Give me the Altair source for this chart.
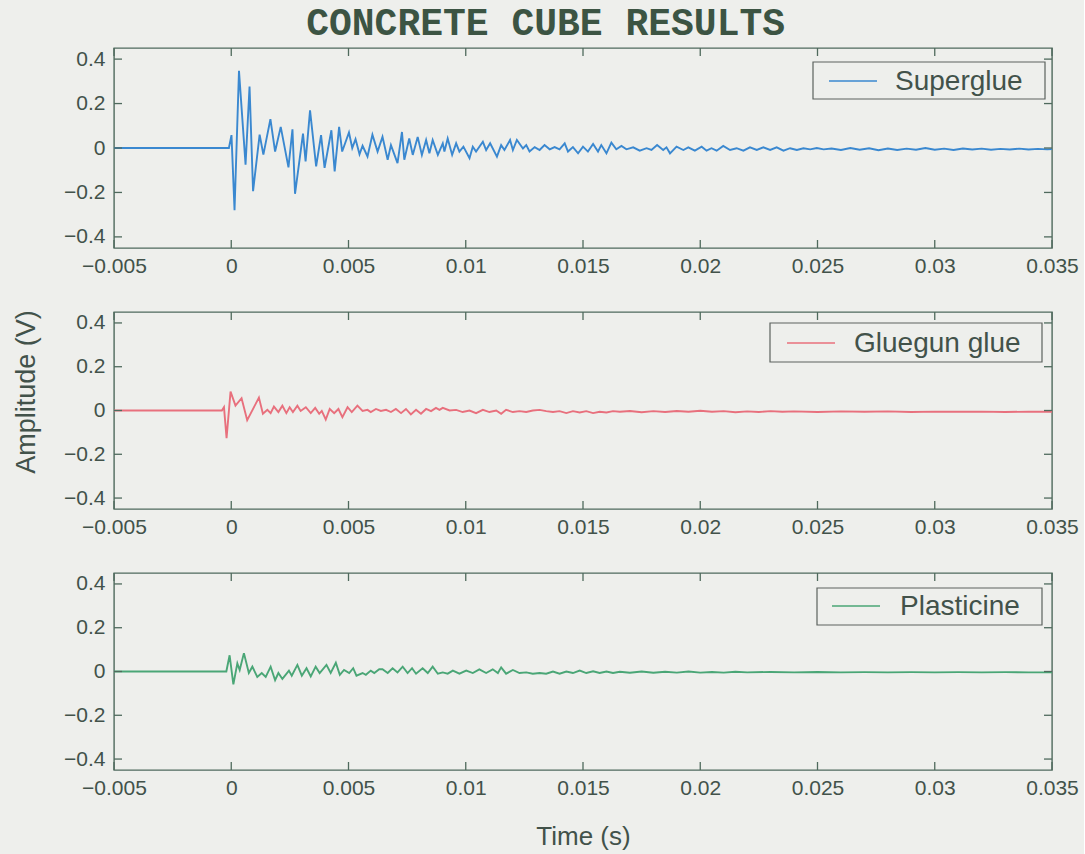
import altair as alt
import pandas as pd

TITLE = "CONCRETE CUBE RESULTS"
X_LABEL = "Time (s)"
Y_LABEL = "Amplitude (V)"
SERIES = ["Superglue", "Gluegun glue", "Plasticine"]
COLORS = ["#3a88d0", "#e8707d", "#4aa676"]

X_TICKS = [-0.005, 0, 0.005, 0.01, 0.015, 0.02, 0.025, 0.03, 0.035]
Y_TICKS = [-0.4, -0.2, 0, 0.2, 0.4]

# (time in ms, amplitude in V), turning points
SUPERGLUE = [
    (-5.0, 0.0), (-0.1, 0.0), (0.01, 0.058), (0.14, -0.28), (0.33, 0.347), (0.61, -0.075),
    (0.78, 0.277), (0.93, -0.194), (1.21, 0.06), (1.37, -0.03), (1.67, 0.13), (1.87, -0.016),
    (2.11, 0.095), (2.44, -0.087), (2.61, 0.084), (2.72, -0.206), (3.06, 0.065), (3.17, -0.06),
    (3.36, 0.169), (3.62, -0.083), (3.83, 0.058), (3.98, -0.089), (4.27, 0.08), (4.41, -0.105),
    (4.60, 0.095), (4.73, -0.016), (5.02, 0.07), (5.16, 0.0), (5.30, 0.04), (5.47, -0.028),
    (5.60, 0.01), (5.81, -0.038), (6.02, 0.06), (6.24, -0.016), (6.45, 0.05), (6.67, -0.053),
    (6.81, 0.013), (7.09, -0.068), (7.28, 0.072), (7.38, -0.053), (7.59, 0.043), (7.74, -0.031),
    (7.95, 0.05), (8.13, -0.031), (8.31, 0.036), (8.45, -0.024), (8.59, 0.036), (8.81, -0.031),
    (9.02, 0.021), (9.09, -0.016), (9.23, 0.043), (9.42, -0.031), (9.59, 0.021), (9.73, -0.016),
    (9.90, 0.006), (10.16, -0.046), (10.30, 0.006), (10.44, -0.016), (10.73, 0.028), (10.87, -0.009),
    (11.04, 0.021), (11.33, -0.039), (11.51, 0.013), (11.65, -0.009), (11.89, 0.036), (12.01, -0.009),
    (12.18, 0.036), (12.44, -0.002), (12.58, 0.013), (12.72, -0.016), (12.94, 0.004), (13.15, -0.009),
    (13.36, 0.013), (13.58, -0.006), (13.79, 0.004), (14.00, -0.006), (14.22, 0.021), (14.36, -0.016),
    (14.57, 0.004), (14.79, -0.024), (15.00, 0.006), (15.21, -0.016), (15.43, 0.018), (15.64, -0.016),
    (15.78, 0.013), (16.00, -0.024), (16.21, 0.024), (16.42, -0.006), (16.64, 0.009), (16.85, -0.006),
    (17.14, 0.003), (17.42, -0.012), (17.71, -0.001), (17.92, -0.009), (18.16, 0.013), (18.42, -0.009),
    (18.56, 0.003), (18.71, -0.024), (18.99, 0.006), (19.28, -0.009), (19.49, 0.003), (19.77, -0.012),
    (20.06, 0.006), (20.27, -0.012), (20.48, -0.001), (20.70, -0.012), (20.98, 0.009), (21.27, -0.009),
    (21.55, -0.001), (21.84, -0.012), (22.12, 0.003), (22.41, -0.009), (22.69, 0.003), (22.98, -0.009),
    (23.26, 0.003), (23.55, -0.012), (23.83, -0.001), (24.12, -0.009), (24.40, -0.001), (24.69, -0.006),
    (24.97, 0.0), (25.26, -0.006), (25.6, -0.002), (26.0, -0.009), (26.4, 0.0), (26.8, -0.008),
    (27.2, -0.001), (27.6, -0.010), (28.0, -0.002), (28.4, -0.009), (28.8, -0.003), (29.2, -0.008),
    (29.6, 0.0), (30.0, -0.008), (30.4, -0.003), (30.8, -0.009), (31.2, -0.002), (31.6, -0.007),
    (32.0, -0.003), (32.4, -0.008), (32.8, -0.004), (33.2, -0.007), (33.6, -0.003), (34.0, -0.007),
    (34.4, -0.004), (34.8, -0.006), (35.0, -0.005),
]

GLUEGUN = [
    (-5.0, 0.0), (-0.40, 0.0), (-0.31, 0.015), (-0.20, -0.126), (-0.03, 0.086), (0.18, 0.022),
    (0.44, 0.056), (0.68, -0.044), (1.18, 0.059), (1.35, -0.015), (1.54, 0.003), (1.68, -0.012),
    (1.82, 0.018), (2.01, -0.007), (2.18, 0.022), (2.35, -0.012), (2.49, 0.015), (2.63, -0.007),
    (2.82, 0.022), (2.96, -0.002), (3.18, 0.015), (3.39, -0.012), (3.58, 0.012), (3.75, -0.015),
    (3.86, -0.002), (4.03, -0.041), (4.20, 0.007), (4.39, -0.012), (4.57, 0.007), (4.74, -0.03),
    (4.96, 0.015), (5.14, -0.007), (5.38, 0.022), (5.60, -0.002), (5.81, 0.003), (5.95, -0.007),
    (6.17, 0.007), (6.38, -0.002), (6.60, 0.003), (6.81, -0.007), (7.02, 0.007), (7.24, -0.012),
    (7.45, 0.007), (7.66, -0.018), (7.88, 0.003), (8.09, -0.015), (8.31, 0.007), (8.52, -0.003),
    (8.73, 0.012), (8.88, 0.003), (9.02, 0.012), (9.31, 0.0), (9.59, 0.003), (9.87, -0.007),
    (10.16, 0.0), (10.44, -0.012), (10.73, 0.003), (11.01, -0.007), (11.30, 0.0), (11.51, -0.015),
    (11.72, 0.003), (12.01, -0.007), (12.29, -0.003), (12.58, -0.007), (12.86, 0.0), (13.15, 0.003),
    (13.43, -0.003), (13.72, -0.007), (14.00, -0.003), (14.29, -0.012), (14.57, -0.003), (14.86, -0.009),
    (15.14, -0.003), (15.43, -0.012), (15.71, -0.006), (16.00, -0.009), (16.28, -0.003), (16.57, -0.006),
    (17.0, -0.002), (17.5, -0.008), (18.0, -0.003), (18.5, -0.007), (19.0, -0.002), (19.5, -0.006),
    (20.0, -0.001), (20.5, -0.006), (21.0, -0.003), (21.5, -0.008), (22.0, -0.004), (22.5, -0.007),
    (23.0, -0.003), (23.5, -0.006), (24.0, -0.004), (25.0, -0.007), (26.0, -0.004), (27.0, -0.006),
    (28.0, -0.004), (29.0, -0.007), (30.0, -0.005), (31.0, -0.006), (32.0, -0.005), (33.0, -0.007),
    (34.0, -0.005), (35.0, -0.006),
]

PLASTICINE = [
    (-5.0, 0.0), (-0.21, 0.0), (-0.07, 0.074), (0.09, -0.059), (0.26, 0.037), (0.36, 0.007),
    (0.54, 0.084), (0.75, -0.007), (0.90, 0.022), (1.11, -0.025), (1.30, -0.007), (1.47, -0.025),
    (1.68, 0.022), (1.87, -0.04), (2.01, -0.007), (2.18, -0.034), (2.46, 0.004), (2.58, -0.019),
    (2.82, 0.03), (3.01, -0.019), (3.21, 0.015), (3.39, -0.022), (3.60, 0.022), (3.77, -0.007),
    (4.06, 0.03), (4.24, -0.007), (4.46, 0.04), (4.63, -0.015), (4.81, 0.007), (5.03, -0.007),
    (5.20, 0.015), (5.34, -0.019), (5.60, -0.007), (5.74, -0.015), (5.95, 0.004), (6.10, -0.007),
    (6.31, 0.01), (6.45, 0.010), (6.67, -0.007), (6.88, 0.015), (7.09, -0.004), (7.31, 0.022),
    (7.52, -0.007), (7.71, 0.015), (7.88, -0.010), (8.16, 0.015), (8.38, -0.007), (8.59, 0.022),
    (8.81, -0.010), (9.02, -0.004), (9.23, -0.010), (9.45, 0.004), (9.73, -0.010), (10.02, 0.004),
    (10.30, -0.007), (10.58, 0.010), (10.87, -0.007), (11.15, 0.010), (11.37, -0.007), (11.51, 0.019),
    (11.72, -0.010), (12.01, 0.007), (12.29, -0.007), (12.58, -0.004), (12.86, -0.010), (13.15, -0.007),
    (13.43, -0.010), (13.72, 0.0), (14.00, -0.010), (14.29, 0.0), (14.57, -0.007), (14.86, 0.004),
    (15.14, -0.007), (15.43, 0.001), (15.71, -0.007), (16.00, 0.0), (16.28, -0.007), (16.57, -0.001),
    (17.0, -0.006), (17.5, 0.0), (18.0, -0.006), (18.5, -0.001), (19.0, -0.005), (19.5, 0.0),
    (20.0, -0.005), (20.5, -0.002), (21.0, -0.005), (21.5, -0.001), (22.0, -0.004), (23.0, -0.002),
    (24.0, -0.004), (25.0, -0.002), (26.0, -0.004), (27.0, -0.003), (28.0, -0.004), (29.0, -0.003),
    (30.0, -0.004), (31.0, -0.003), (32.0, -0.004), (33.0, -0.003), (34.0, -0.004), (35.0, -0.004),
]

FONT = "Liberation Sans"
TEXT = "#42524a"
FRAME = "#4f6a5d"
BG = "#eeefec"
LEG_STROKE = "#5c625e"

W = 938
HEIGHTS = [200, 197, 197]
# legend layout per panel: box x0, x1, y0, y1, sample x0, x1, text x, centre y
LEGENDS = [
    (699, 931, 14, 51, 715, 763, 781, 33),
    (656, 928, 11, 50, 673, 721, 740, 31),
    (703, 928, 15, 52, 718, 766, 786, 33),
]

xscale = alt.Scale(domain=[-0.005, 0.035], nice=False, zero=False)
yscale = alt.Scale(domain=[-0.45, 0.45], nice=False, zero=False)


def panel(i, points, y_title, x_title):
    h = HEIGHTS[i]
    df = pd.DataFrame(points, columns=["ms", "v"])
    df["t"] = df["ms"] / 1000.0
    x_axis = dict(values=X_TICKS, format="~g", grid=False, ticks=False, tickSize=0,
                  domain=False, labelFontSize=21, labelPadding=7, labelFont=FONT,
                  labelColor=TEXT, labelFlush=False)
    y_axis = dict(values=Y_TICKS, format="~g", grid=False, ticks=False, tickSize=0,
                  domain=False, labelFontSize=21, labelPadding=9, labelFont=FONT,
                  labelColor=TEXT, title=None)
    if x_title:
        x_axis.update(title=x_title, titleFontSize=26, titleFont=FONT, titleColor=TEXT,
                      titleFontWeight="normal", titlePadding=25)
    else:
        x_axis.update(title=None)

    line = alt.Chart(df).mark_line(color=COLORS[i], strokeWidth=1.9).encode(
        x=alt.X("t:Q", scale=xscale, axis=alt.Axis(**x_axis)),
        y=alt.Y("v:Q", scale=yscale, axis=alt.Axis(**y_axis)),
    )
    xt = pd.DataFrame({"t": X_TICKS})
    yt = pd.DataFrame({"v": Y_TICKS})
    tick_style = dict(color=FRAME, strokeWidth=1.3)
    bottom = alt.Chart(xt).mark_rule(**tick_style).encode(
        x=alt.X("t:Q", scale=xscale), y=alt.value(h), y2=alt.value(h - 8))
    top = alt.Chart(xt).mark_rule(**tick_style).encode(
        x=alt.X("t:Q", scale=xscale), y=alt.value(0), y2=alt.value(8))
    left = alt.Chart(yt).mark_rule(**tick_style).encode(
        y=alt.Y("v:Q", scale=yscale), x=alt.value(0), x2=alt.value(8))
    right = alt.Chart(yt).mark_rule(**tick_style).encode(
        y=alt.Y("v:Q", scale=yscale), x=alt.value(W - 8), x2=alt.value(W))

    bx0, bx1, by0, by1, sx0, sx1, tx, cy = LEGENDS[i]
    ldf = pd.DataFrame({"s": [SERIES[i]]})
    box = alt.Chart(ldf).mark_rect(fill=BG, stroke=LEG_STROKE, strokeWidth=1.2).encode(
        x=alt.value(bx0), x2=alt.value(bx1), y=alt.value(by0), y2=alt.value(by1))
    sample = alt.Chart(ldf).mark_rule(color=COLORS[i], strokeWidth=1.6).encode(
        x=alt.value(sx0), x2=alt.value(sx1), y=alt.value(cy))
    label = alt.Chart(ldf).mark_text(align="left", baseline="middle", fontSize=28,
                                     font=FONT, color=TEXT).encode(
        x=alt.value(tx), y=alt.value(cy + 1), text="s:N")

    layers = [line, bottom, top, left, right, box, sample, label]
    if y_title:
        ydf = pd.DataFrame({"s": [y_title]})
        ytxt = alt.Chart(ydf).mark_text(align="center", baseline="middle", angle=270,
                                        fontSize=27, font=FONT, color=TEXT).encode(
            x=alt.value(-87), y=alt.value(80), text="s:N")
        layers.append(ytxt)
    return alt.layer(*layers).properties(width=W, height=h)


p1 = panel(0, SUPERGLUE, None, None)
p2 = panel(1, GLUEGUN, Y_LABEL, None)
p3 = panel(2, PLASTICINE, None, X_LABEL)

chart = alt.vconcat(p1, p2, p3, spacing=64, bounds="flush").properties(
    title=alt.TitleParams(TITLE, font="Liberation Mono", fontSize=38, fontWeight="bold",
                          color="#3c5443", anchor="middle", offset=4),
    padding={"left": 12, "top": 4, "right": 5, "bottom": 5},
    background=BG,
).configure_view(stroke=FRAME, strokeWidth=1.4)

chart.save("out.html", embed_options={"renderer": "svg", "actions": False})
